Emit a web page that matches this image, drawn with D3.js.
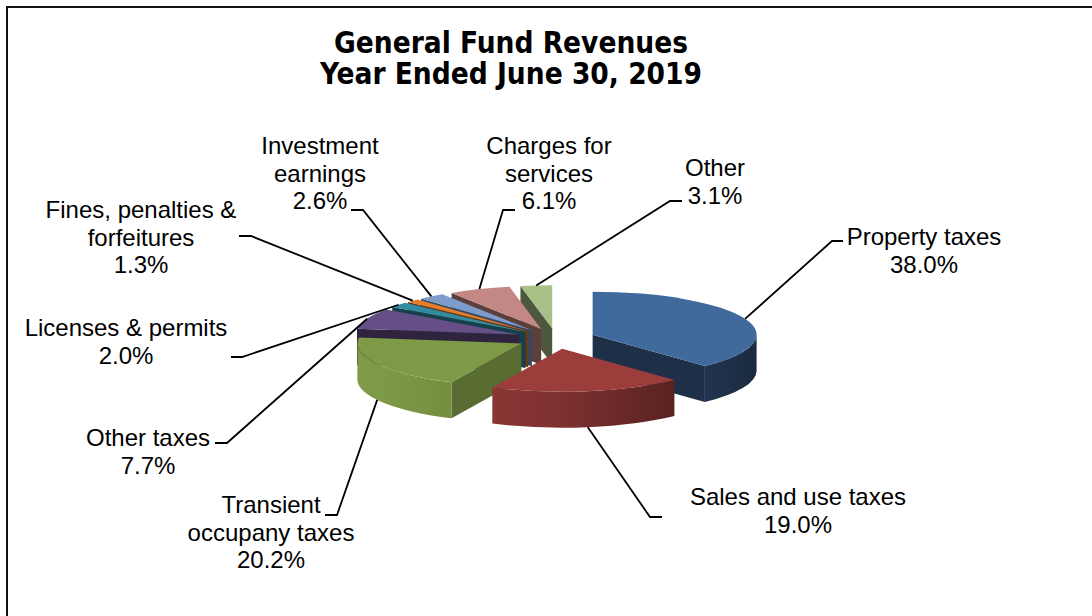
<!DOCTYPE html>
<html><head><meta charset="utf-8">
<script src="https://cdn.jsdelivr.net/npm/d3@7"></script>
<style>html,body{margin:0;padding:0;background:#fff;} svg{display:block}</style>
</head><body>
<svg id="c" width="1092" height="616"></svg>
<script>
// ---- data ----
const categories = ["Property taxes","Sales and use taxes","Transient occupany taxes","Other taxes","Licenses & permits","Fines, penalties & forfeitures","Investment earnings","Charges for services","Other"];
const values = [38.0, 19.0, 20.2, 7.7, 2.0, 1.3, 2.6, 6.1, 3.1];
const labelLines = [["Property taxes"],["Sales and use taxes"],["Transient","occupany taxes"],["Other taxes"],["Licenses & permits"],["Fines, penalties &","forfeitures"],["Investment","earnings"],["Charges for","services"],["Other"]];
const titleLines = ["General Fund Revenues","Year Ended June 30, 2019"];
const colors = ["#40699C","#9B3D3A","#7E9A46","#664F86","#2F8CA3","#E57E2B","#7D9BCB","#C48884","#A8BF88"];

// ---- layout (label placement) ----
const labelLayout = [
  {cx:924, y:245, elbow:[832,241], end:[843,241]},
  {cx:798, y:505, elbow:[650,517], end:[662,517]},
  {cx:271, y:513, elbow:[337,515], end:[325,515]},
  {cx:148, y:446, elbow:[227,443], end:[215,443]},
  {cx:126, y:336, elbow:[242,357], end:[231,357]},
  {cx:141, y:218, elbow:[251,236], end:[239,236]},
  {cx:320, y:154, elbow:[363,210], end:[351,210]},
  {cx:549, y:154, elbow:[503,210], end:[515,210]},
  {cx:715, y:176, elbow:[670,201], end:[682,201]}
];

const svg = d3.select("#c");
const O = {x:556, y:338.5}, RX = 164, RY = 43, DEPTH = 36, EXPLODE = 0.24;
const arcs = d3.pie().sort(null).value(d => d)(values);
const shade = (c, f) => d3.interpolateRgb("#000", c)(f);

function pt(c, a, r = 1, h = 0) {
  return [c.x + RX * r * Math.sin(a), c.y - RY * r * Math.cos(a) + h];
}

// frame
svg.append("line").attr("x1",6).attr("y1",7).attr("x2",1092).attr("y2",7).attr("stroke","#111").attr("stroke-width",2);
svg.append("line").attr("x1",7).attr("y1",6).attr("x2",7).attr("y2",616).attr("stroke","#111").attr("stroke-width",2);

// title
const title = svg.append("text").attr("x",511).attr("y",53)
  .attr("text-anchor","middle").attr("font-family","'DejaVu Sans Condensed','DejaVu Sans',sans-serif")
  .attr("font-weight","bold").attr("font-size",29.5).attr("fill","#000");
titleLines.forEach((t,i)=>title.append("tspan").attr("x",511).attr("dy", i===0?0:31).text(t));

const defs = svg.append("defs");
const slices = arcs.map((a, i) => {
  const mid = (a.startAngle + a.endAngle) / 2;
  const c = {x: O.x + EXPLODE * RX * Math.sin(mid), y: O.y - EXPLODE * RY * Math.cos(mid)};
  return {i, s: a.startAngle, e: a.endAngle, mid, c, color: colors[i]};
});

slices.forEach(d => {
  const g = defs.append("linearGradient").attr("id","og"+d.i).attr("gradientUnits","userSpaceOnUse")
    .attr("x1", O.x - RX - 10).attr("x2", O.x + RX + 40).attr("y1",0).attr("y2",0);
  g.append("stop").attr("offset","0").attr("stop-color", shade(d.color, 1.0));
  g.append("stop").attr("offset","0.45").attr("stop-color", shade(d.color, 0.82));
  g.append("stop").attr("offset","1").attr("stop-color", shade(d.color, 0.4));
});

const order = slices.slice().sort((a, b) => (-Math.cos(a.mid)) - (-Math.cos(b.mid)));
const pie = svg.append("g");

order.forEach(d => {
  const g = pie.append("g");
  const c = d.c;
  if (Math.sin(d.s) < -1e-6) {
    const p = pt(c, d.s);
    const f = 0.46 + 0.27 * Math.max(0, -Math.cos(d.s));
    g.append("path").attr("d", `M${c.x},${c.y}L${p[0]},${p[1]}L${p[0]},${p[1]+DEPTH}L${c.x},${c.y+DEPTH}Z`)
      .attr("fill", shade(d.color, f));
  }
  if (Math.sin(d.e) > 1e-6) {
    const p = pt(c, d.e);
    const f = 0.46 + 0.27 * Math.max(0, Math.cos(d.e));
    g.append("path").attr("d", `M${c.x},${c.y}L${p[0]},${p[1]}L${p[0]},${p[1]+DEPTH}L${c.x},${c.y+DEPTH}Z`)
      .attr("fill", shade(d.color, f));
  }
  const a0 = Math.max(d.s, Math.PI/2), a1 = Math.min(d.e, 3*Math.PI/2);
  if (a1 > a0) {
    const p0 = pt(c, a0), p1 = pt(c, a1);
    g.append("path").attr("d",
      `M${p0[0]},${p0[1]}A${RX},${RY} 0 0 1 ${p1[0]},${p1[1]}L${p1[0]},${p1[1]+DEPTH}A${RX},${RY} 0 0 0 ${p0[0]},${p0[1]+DEPTH}Z`)
      .attr("fill", `url(#og${d.i})`);
  }
  const ps = pt(c, d.s), pe = pt(c, d.e);
  const large = (d.e - d.s) > Math.PI ? 1 : 0;
  g.append("path").attr("d", `M${c.x},${c.y}L${ps[0]},${ps[1]}A${RX},${RY} 0 ${large} 1 ${pe[0]},${pe[1]}Z`)
    .attr("fill", d.color);
});

// leader lines + labels
const lab = svg.append("g").attr("font-family","'Liberation Sans',Arial,sans-serif").attr("font-size",24).attr("fill","#000");
slices.forEach(d => {
  const L = labelLayout[d.i];
  const front = Math.cos(d.mid) < 0;
  const anchor = pt(d.c, d.mid, 1, front ? DEPTH : 0);
  svg.append("path").attr("d", d3.line()([anchor, L.elbow, L.end]))
    .attr("fill","none").attr("stroke","#000").attr("stroke-width",1.8);
  const t = lab.append("text").attr("text-anchor","middle").attr("x",L.cx).attr("y",L.y);
  const lines = labelLines[d.i].concat([values[d.i].toFixed(1) + "%"]);
  lines.forEach((s, k) => t.append("tspan").attr("x", L.cx).attr("dy", k === 0 ? 0 : 27.5).text(s));
});
</script>
</body></html>
